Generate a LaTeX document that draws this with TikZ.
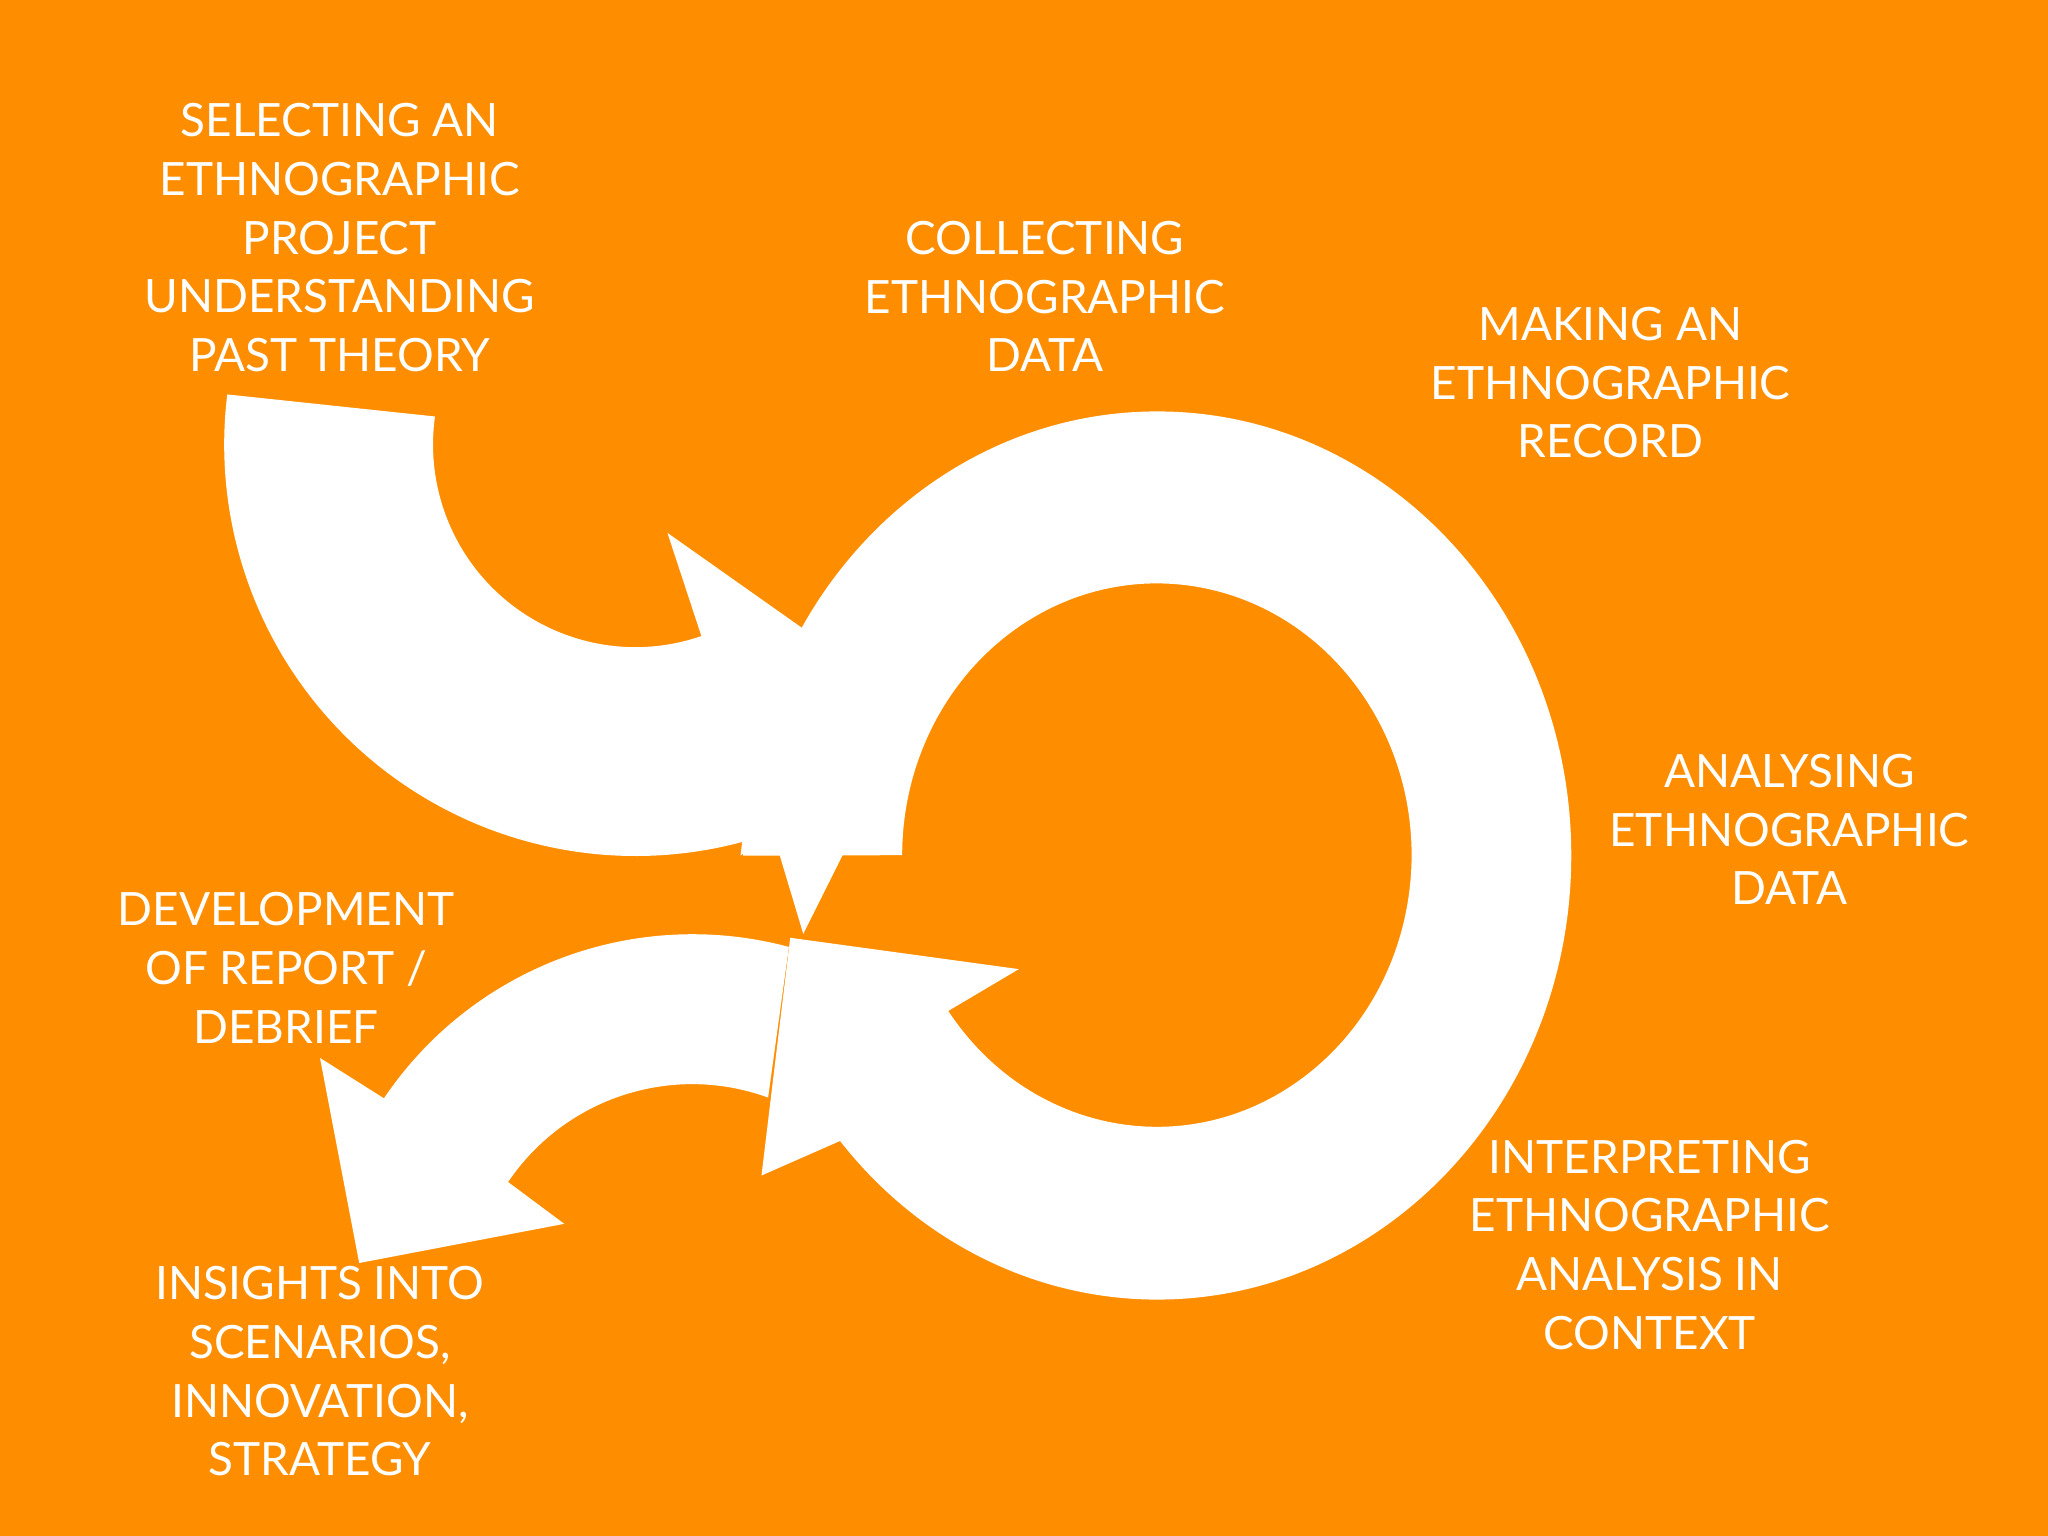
\documentclass[tikz,border=0pt]{standalone}
\usepackage{fontspec}
\setmainfont{Lato}
\definecolor{bgor}{RGB}{254,142,0}
\tikzset{lbl/.style={text=white,align=center,font=\fontsize{20}{25.6}\selectfont}}
\begin{document}
\begin{tikzpicture}[x=0.02cm,y=0.02cm]
\fill[bgor] (0,0) rectangle (1568,1176);
\useasboundingbox (0,0) rectangle (1568,1176);
% top-left arrow
\fill[white] (174,874) arc[start angle=173,end angle=285,radius=315]
  -- (567,521) -- (715,624) -- (511,768) -- (537,689)
  arc[start angle=289,end angle=172,radius=155] -- cycle;
% big ring
\fill[white] (569,521) arc[start angle=180,end angle=-140,x radius=317,y radius=340]
  -- (583,276) -- (605,458) -- (780,434) -- (726,402)
  arc[start angle=-145,end angle=180,x radius=195,y radius=208]
  -- (645,521) -- (615,461) -- (597,521) -- cycle;
% lower-left arrow
\fill[white] (604,451) arc[start angle=75,end angle=146,radius=285]
  -- (245,366) -- (275,209) -- (432,239) -- (389,271)
  arc[start angle=146,end angle=70,radius=170] -- cycle;
\node[lbl] (sel) at (260,994) {SELECTING AN\\ETHNOGRAPHIC\\PROJECT\\UNDERSTANDING\\PAST THEORY};
\node[lbl] (col) at (800,949) {COLLECTING\\ETHNOGRAPHIC\\DATA};
\node[lbl] (mak) at (1233,883) {MAKING AN\\ETHNOGRAPHIC\\RECORD};
\node[lbl] (ana) at (1370,541) {ANALYSING\\ETHNOGRAPHIC\\DATA};
\node[lbl] (int) at (1263,223) {INTERPRETING\\ETHNOGRAPHIC\\ANALYSIS IN\\CONTEXT};
\node[lbl] (dev) at (219,435) {DEVELOPMENT\\OF REPORT /\\DEBRIEF};
\node[lbl] (ins) at (245,126) {INSIGHTS INTO\\SCENARIOS,\\INNOVATION,\\STRATEGY};
\end{tikzpicture}
\end{document}
